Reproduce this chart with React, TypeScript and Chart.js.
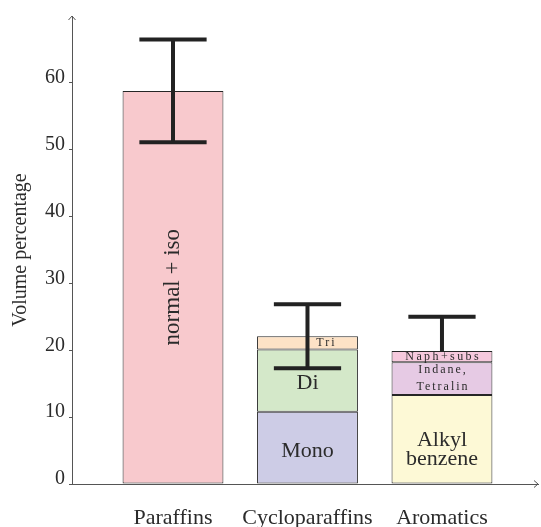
import React, { useEffect, useRef } from 'react';
import { Chart, registerables } from 'chart.js';

Chart.register(...registerables);

// Hydrocarbon groups on the horizontal axis
const categories = ['Paraffins', 'Cycloparaffins', 'Aromatics'];

// Stacked segments: which group each belongs to and its volume share (%)
const segmentNames = ['normal + iso', 'Mono', 'Di', 'Tri', 'Alkyl benzene', 'Indane, Tetralin', 'Naph+subs'];
const segmentCategory = [0, 1, 1, 1, 2, 2, 2];
const segmentValues = [58.8, 10.8, 9.3, 2.0, 13.3, 4.9, 1.7];

// Text drawn inside each segment, one entry per line
const segmentLines = [['normal + iso'], ['Mono'], ['Di'], ['Tri'], ['Alkyl', 'benzene'], ['Indane,', 'Tetralin'], ['Naph+subs']];

// Spread of each group total (null = no lower whisker)
const errorLow: (number | null)[] = [51.1, 17.3, null];
const errorHigh = [66.5, 26.9, 25.0];

const yTickValues = [0, 10, 20, 30, 40, 50, 60];
const yMax = 70;

const segmentColors = ['#f8c9cd', '#cdcce6', '#d4e8c9', '#fde2c6', '#fdf9d6', '#e6cae4', '#f6c9dd'];

const labelStyle = [
  { size: 23, rotate: true, dx: 0, dy: 0, gap: 0, spacing: 0 },
  { size: 22, rotate: false, dx: 0, dy: 4, gap: 0, spacing: 0 },
  { size: 22, rotate: false, dx: 0, dy: 3, gap: 0, spacing: 0 },
  { size: 12, rotate: false, dx: 18, dy: 0, gap: 0, spacing: 2 },
  { size: 22, rotate: false, dx: 0, dy: 10, gap: 19, spacing: 0 },
  { size: 12, rotate: false, dx: 0, dy: 0, gap: 17, spacing: 2 },
  { size: 12, rotate: false, dx: 0, dy: 0, gap: 0, spacing: 2.4 },
];

const SERIF = '"Liberation Serif", "Times New Roman", serif';
const INK = '#2b2b2b';
const AXIS = '#555555';

const overlay = {
  id: 'overlay',
  afterDatasetsDraw(chart: any) {
    const ctx: CanvasRenderingContext2D = chart.ctx;
    const xs = chart.scales.x;
    const ys = chart.scales.y;
    const area = chart.chartArea;

    // labels inside the stacked segments
    segmentNames.forEach((_, i) => {
      const bar = chart.getDatasetMeta(i).data[0];
      if (!bar) return;
      const st = labelStyle[i];
      const lines = segmentLines[i];
      ctx.save();
      ctx.font = `${st.size}px ${SERIF}`;
      (ctx as any).letterSpacing = `${st.spacing}px`;
      ctx.fillStyle = INK;
      ctx.textAlign = 'center';
      ctx.textBaseline = 'middle';
      ctx.translate(bar.x + st.dx + st.spacing / 2, (bar.y + bar.base) / 2 + st.dy);
      if (st.rotate) ctx.rotate(-Math.PI / 2);
      lines.forEach((ln, k) => ctx.fillText(ln, 0, (k - (lines.length - 1) / 2) * st.gap));
      ctx.restore();
    });

    // error bars on each group total
    categories.forEach((_, c) => {
      const x = xs.getPixelForValue(c);
      let total = 0;
      let barW = 0;
      segmentValues.forEach((v, i) => {
        if (segmentCategory[i] === c) {
          total += v;
          const el = chart.getDatasetMeta(i).data[0];
          if (el) barW = el.width;
        }
      });
      const lowVal = errorLow[c];
      const hi = ys.getPixelForValue(errorHigh[c]);
      const lo = ys.getPixelForValue(lowVal ?? total);
      const half = barW / 3;
      ctx.save();
      ctx.strokeStyle = '#222222';
      ctx.lineWidth = 4;
      ctx.lineCap = 'butt';
      ctx.beginPath();
      ctx.moveTo(x, lo);
      ctx.lineTo(x, hi);
      ctx.moveTo(x - half, hi);
      ctx.lineTo(x + half, hi);
      if (lowVal !== null) {
        ctx.moveTo(x - half, lo);
        ctx.lineTo(x + half, lo);
      }
      ctx.stroke();
      ctx.restore();
    });

    // arrow heads at the ends of both axes
    ctx.save();
    ctx.strokeStyle = AXIS;
    ctx.lineWidth = 1;
    ctx.beginPath();
    ctx.moveTo(area.left - 3.5, area.top + 4);
    ctx.lineTo(area.left, area.top);
    ctx.lineTo(area.left + 3.5, area.top + 4);
    ctx.moveTo(area.right - 4, area.bottom - 3.5);
    ctx.lineTo(area.right, area.bottom);
    ctx.lineTo(area.right - 4, area.bottom + 3.5);
    ctx.stroke();
    ctx.restore();
  },
};

export default function App() {
  const canvasRef = useRef<HTMLCanvasElement>(null);

  useEffect(() => {
    const canvas = canvasRef.current;
    if (!canvas) return;

    const datasets = segmentNames.map((name, i) => ({
      label: name,
      data: [{ x: segmentCategory[i], y: segmentValues[i] }],
      backgroundColor: segmentColors[i],
      borderColor: '#262626',
      borderWidth: 1,
      borderSkipped: false as const,
      barPercentage: 0.75,
      categoryPercentage: 1,
    }));

    const chart = new Chart(canvas, {
      type: 'bar',
      data: { datasets },
      plugins: [overlay],
      options: {
        animation: false,
        responsive: false,
        devicePixelRatio: 1,
        layout: { padding: { top: 14, right: 3, bottom: 0, left: 0 } },
        plugins: {
          legend: { display: false },
          tooltip: { enabled: false },
        },
        scales: {
          x: {
            type: 'linear',
            stacked: true,
            offset: false,
            min: -0.751,
            max: 2.714,
            grid: { display: false, offset: false },
            border: { display: true, color: AXIS, width: 1 },
            afterBuildTicks: (scale: any) => {
              scale.ticks = categories.map((_, i) => ({ value: i }));
            },
            afterFit: (scale: any) => {
              scale.height = 43;
            },
            ticks: {
              autoSkip: false,
              maxRotation: 0,
              padding: 13,
              color: INK,
              font: { family: SERIF, size: 22 },
              callback: (v: any) => categories[Math.round(Number(v))] ?? '',
            },
          },
          y: {
            type: 'linear',
            stacked: true,
            min: 0,
            max: yMax,
            grid: { drawOnChartArea: false, drawTicks: true, tickLength: 3, color: AXIS },
            border: { display: true, color: AXIS, width: 1 },
            afterBuildTicks: (scale: any) => {
              scale.ticks = yTickValues.map((v) => ({ value: v }));
            },
            afterFit: (scale: any) => {
              scale.width = 72;
            },
            ticks: {
              padding: 4,
              labelOffset: -5,
              color: INK,
              font: { family: SERIF, size: 20 },
            },
            title: {
              display: true,
              text: 'Volume percentage',
              color: INK,
              font: { family: SERIF, size: 20 },
              padding: { top: 9, bottom: 0 },
            },
          },
        },
      },
    });

    return () => chart.destroy();
  }, []);

  return (
    <div style={{ position: 'absolute', left: 0, top: 0, width: 541, height: 527, background: '#ffffff' }}>
      <canvas ref={canvasRef} width={541} height={527} style={{ display: 'block' }} />
    </div>
  );
}
